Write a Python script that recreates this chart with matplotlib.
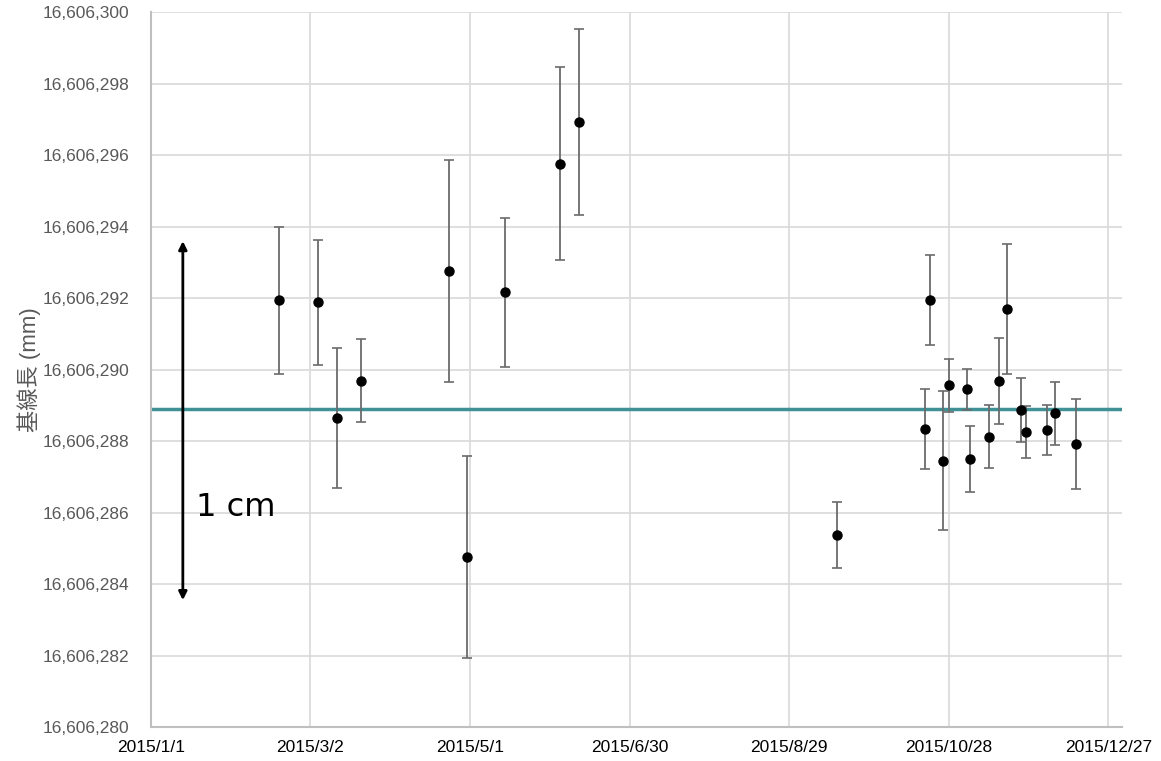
import matplotlib.pyplot as plt
import matplotlib.dates as mdates
from matplotlib.ticker import FuncFormatter
import pandas as pd

plt.rcParams['font.family'] = ['Liberation Sans', 'Noto Sans CJK JP', 'DejaVu Sans']

# observation dates, baseline length (mm) and its error (mm)
dates = ['2015-02-18', '2015-03-05', '2015-03-12', '2015-03-21', '2015-04-23',
         '2015-04-30', '2015-05-14', '2015-06-04', '2015-06-11', '2015-09-16',
         '2015-10-19', '2015-10-21', '2015-10-26', '2015-10-28', '2015-11-04',
         '2015-11-05', '2015-11-12', '2015-11-16', '2015-11-19', '2015-11-24',
         '2015-11-26', '2015-12-04', '2015-12-07', '2015-12-15']
length = [16606291.94, 16606291.89, 16606288.65, 16606289.69, 16606292.76,
          16606284.76, 16606292.17, 16606295.77, 16606296.94, 16606285.38,
          16606288.34, 16606291.94, 16606287.45, 16606289.56, 16606289.45,
          16606287.50, 16606288.12, 16606289.69, 16606291.69, 16606288.88,
          16606288.26, 16606288.32, 16606288.78, 16606287.92]
err = [2.06, 1.75, 1.97, 1.16, 3.10,
       2.82, 2.08, 2.70, 2.60, 0.92,
       1.12, 1.26, 1.95, 0.74, 0.57,
       0.92, 0.88, 1.21, 1.82, 0.90,
       0.73, 0.70, 0.88, 1.26]
mean_length = 16606288.91

# 1 cm scale arrow
arrow_date = '2015-01-13'
arrow_low, arrow_high = 16606283.55, 16606293.6

x = pd.to_datetime(dates)

fig = plt.figure(figsize=(11.61, 7.61), dpi=100)
ax = fig.add_axes([0.130, 0.0447, 0.8361, 0.9389])

ax.errorbar(x, length, yerr=err, fmt='o', color='black', markersize=6.5,
            ecolor='#6b6b6b', elinewidth=1.3, capsize=3.5, capthick=1.2, zorder=3)
ax.axhline(mean_length, color='#3f9196', lw=2.5, zorder=2)

ax.annotate('', xy=(pd.Timestamp(arrow_date), arrow_low),
            xytext=(pd.Timestamp(arrow_date), arrow_high),
            arrowprops=dict(arrowstyle='<|-|>', color='black', lw=2,
                            mutation_scale=12, shrinkA=0, shrinkB=0))
ax.text(pd.Timestamp('2015-01-18'), 16606286.15, '1 cm', fontsize=23,
        family='DejaVu Sans', va='center', ha='left')

ax.set_xlim(pd.Timestamp('2015-01-01'), pd.Timestamp('2016-01-01'))
ax.set_ylim(16606280, 16606300)
ax.set_yticks(range(16606280, 16606301, 2))
ax.yaxis.set_major_formatter(FuncFormatter(lambda v, p: f'{v:,.0f}'))

ticks = pd.date_range('2015-01-01', periods=7, freq='60D')
ax.set_xticks(ticks)
ax.set_xticklabels([f'{d.year}/{d.month}/{d.day}' for d in ticks])

ax.grid(True, color='#d9d9d9', lw=1.2)
ax.set_axisbelow(True)
for s in ['top', 'right']:
    ax.spines[s].set_visible(False)
for s in ['left', 'bottom']:
    ax.spines[s].set_color('#bfbfbf')
    ax.spines[s].set_linewidth(1.5)
ax.tick_params(length=0)
ax.tick_params(axis='y', labelsize=12.5, labelcolor='#595959', pad=15.5)
ax.tick_params(axis='x', labelsize=12.5, labelcolor='black', pad=9.5)

ax.set_ylabel('基線長 (mm)', fontsize=16, color='#595959', labelpad=1)

fig.savefig('out.png', dpi=100)
